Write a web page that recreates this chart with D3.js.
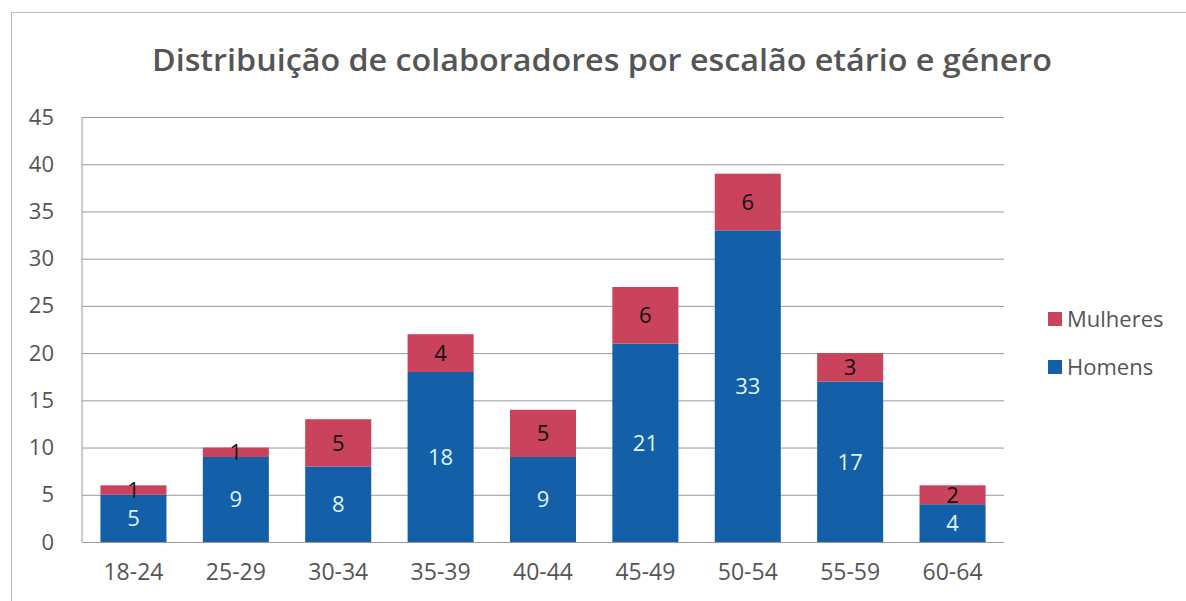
<!DOCTYPE html>
<html>
<head>
<meta charset="utf-8">
<script src="https://cdn.jsdelivr.net/npm/d3@7"></script>
<style>
  body { margin: 0; background: #fff; }
  svg text { font-family: "Open Sans", "Noto Sans", sans-serif; }
</style>
</head>
<body>
<svg id="chart" width="1186" height="601"></svg>
<script>
const categories = ['18-24', '25-29', '30-34', '35-39', '40-44', '45-49', '50-54', '55-59', '60-64']
const homens = [5, 9, 8, 18, 9, 21, 33, 17, 4]
const mulheres = [1, 1, 5, 4, 5, 6, 6, 3, 2]
const yTicks = [0, 5, 10, 15, 20, 25, 30, 35, 40, 45]

const colors = { homens: '#1460a8', mulheres: '#c8435b' }
const plot = { left: 82, right: 1004, top: 117, bottom: 542 }

const svg = d3.select('#chart')

// outer chart frame (only left and top edges show in the scan)
svg.append('rect')
    .attr('x', 11.5).attr('y', 12.5)
    .attr('width', 1200).attr('height', 640)
    .style('fill', 'none')
    .style('stroke', '#bbb')

svg.append('text')
    .attr('x', 152).attr('y', 71)
    .attr('textLength', 900)
    .attr('lengthAdjust', 'spacingAndGlyphs')
    .style('font-size', '31px')
    .style('font-weight', 600)
    .style('fill', '#555')
    .text('Distribuição de colaboradores por escalão etário e género')

const x = d3.scaleBand()
    .domain(categories)
    .range([plot.left, plot.right])
    .paddingInner(0.355)
    .paddingOuter(0.18)

const y = d3.scaleLinear()
    .domain([0, 45])
    .range([plot.bottom, plot.top])

// gridlines + y labels
const yAxis = svg.append('g')
    .attr('transform', `translate(${plot.left},0)`)
    .call(d3.axisLeft(y).tickValues(yTicks).tickSize(-(plot.right - plot.left)).tickPadding(28))
yAxis.select('.domain').remove()
yAxis.selectAll('line').style('stroke', '#9a9a9a')
yAxis.selectAll('text')
    .style('font-size', '22px')
    .style('fill', '#555')

// left vertical line of the plot area
svg.append('line')
    .attr('x1', plot.left).attr('x2', plot.left)
    .attr('y1', plot.top).attr('y2', plot.bottom)
    .style('stroke', '#9a9a9a')

const rows = categories.map((c, i) => ({ cat: c, homens: homens[i], mulheres: mulheres[i] }))
const stacked = d3.stack().keys(['homens', 'mulheres'])(rows)

const layers = svg.append('g').selectAll('g')
    .data(stacked)
    .join('g')
    .style('fill', d => colors[d.key])

layers.selectAll('rect')
    .data(d => d)
    .join('rect')
    .attr('x', d => x(d.data.cat))
    .attr('width', x.bandwidth())
    .attr('y', d => y(d[1]))
    .attr('height', d => y(d[0]) - y(d[1]))

// value labels
layers.selectAll('text')
    .data(d => d.map(v => ({ v, key: d.key })))
    .join('text')
    .attr('x', d => x(d.v.data.cat) + x.bandwidth() / 2)
    .attr('y', d => (y(d.v[0]) + y(d.v[1])) / 2)
    .attr('dy', '0.36em')
    .attr('text-anchor', 'middle')
    .style('font-size', '22px')
    .style('fill', d => d.key === 'homens' ? '#dff6ff' : '#111')
    .text(d => d.v.data[d.key])

// x labels
const xAxis = svg.append('g')
    .attr('transform', `translate(0,${plot.bottom})`)
    .call(d3.axisBottom(x).tickSize(0).tickPadding(22))
xAxis.select('.domain').remove()
xAxis.selectAll('text')
    .style('font-size', '23px')
    .style('fill', '#555')

// legend
const legend = svg.append('g')
const legendItems = [
    { label: 'Mulheres', key: 'mulheres', y: 319 },
    { label: 'Homens', key: 'homens', y: 367 }
]
legend.selectAll('rect')
    .data(legendItems)
    .join('rect')
    .attr('x', 1048).attr('y', d => d.y - 7)
    .attr('width', 14).attr('height', 14)
    .style('fill', d => colors[d.key])
legend.selectAll('text')
    .data(legendItems)
    .join('text')
    .attr('x', 1067).attr('y', d => d.y)
    .attr('dy', '0.36em')
    .style('font-size', '22px')
    .style('fill', '#555')
    .text(d => d.label)
</script>
</body>
</html>
